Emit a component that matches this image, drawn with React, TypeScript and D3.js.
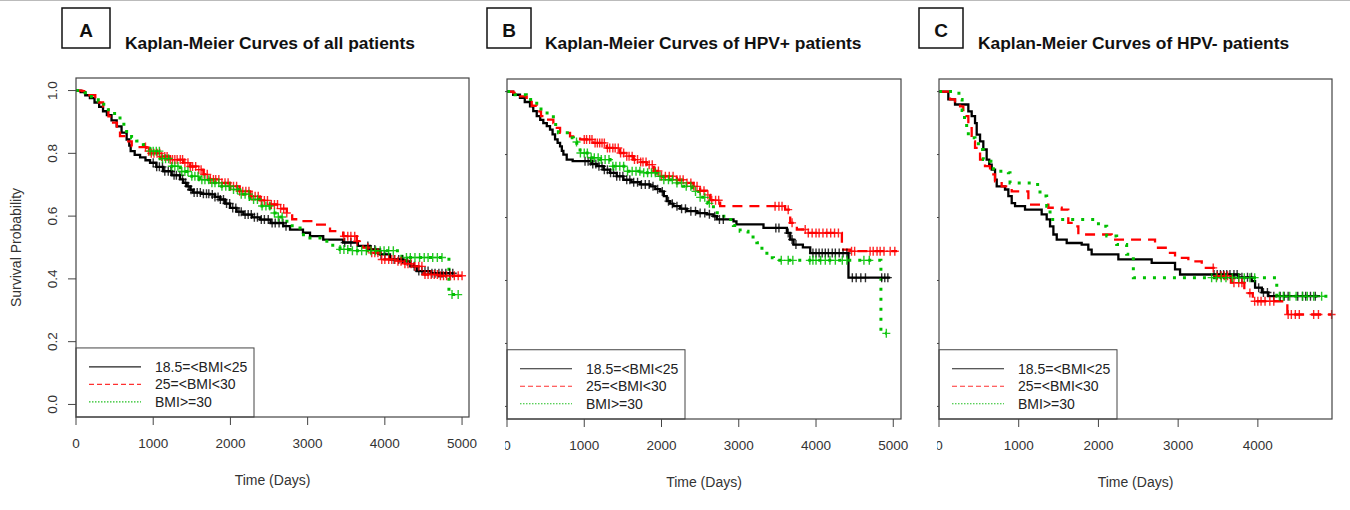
import React from 'react'
import * as d3 from 'd3'

// survival steps: [day, survival after the step]; last pair = end of follow-up
const aBlack = [[0,1],[60,0.995],[120,0.985],[180,0.976],[240,0.962],[300,0.948],[350,0.934],[400,0.922],[460,0.905],[527,0.886],[590,0.866],[656,0.844],[690,0.825],[708,0.807],[760,0.795],[830,0.787],[900,0.778],[959,0.77],[1040,0.757],[1131,0.743],[1240,0.73],[1347,0.717],[1390,0.706],[1434,0.695],[1480,0.684],[1516,0.675],[1620,0.671],[1736,0.669],[1800,0.661],[1865,0.653],[1930,0.64],[1995,0.626],[2080,0.614],[2167,0.605],[2280,0.596],[2383,0.589],[2520,0.578],[2686,0.568],[2772,0.557],[2940,0.547],[3031,0.536],[3202,0.525],[3460,0.516],[3650,0.505],[3808,0.494],[3938,0.478],[4067,0.462],[4240,0.456],[4330,0.44],[4413,0.425],[4600,0.418],[4890,0.418]]
const aRed = [[0,1],[80,0.998],[150,0.985],[250,0.962],[350,0.94],[420,0.918],[480,0.898],[530,0.875],[570,0.855],[650,0.838],[722,0.823],[790,0.82],[915,0.807],[959,0.8],[1090,0.79],[1218,0.78],[1390,0.77],[1480,0.758],[1563,0.748],[1650,0.733],[1736,0.717],[1860,0.706],[1995,0.695],[2120,0.679],[2254,0.663],[2380,0.65],[2513,0.637],[2620,0.624],[2730,0.61],[2800,0.59],[2880,0.584],[3073,0.573],[3290,0.552],[3460,0.536],[3636,0.52],[3720,0.5],[3808,0.483],[3938,0.462],[4153,0.456],[4260,0.448],[4370,0.44],[4500,0.414],[4700,0.41],[5030,0.41]]
const aGreen = [[0,1],[117,0.993],[200,0.98],[289,0.966],[360,0.95],[419,0.934],[500,0.918],[570,0.902],[620,0.883],[656,0.865],[720,0.85],[786,0.839],[872,0.828],[920,0.815],[959,0.807],[1090,0.783],[1218,0.759],[1350,0.742],[1477,0.727],[1600,0.716],[1736,0.706],[1860,0.695],[1995,0.685],[2120,0.67],[2254,0.653],[2380,0.632],[2513,0.61],[2600,0.597],[2686,0.584],[2800,0.562],[2902,0.541],[3030,0.53],[3160,0.52],[3290,0.507],[3420,0.494],[3549,0.49],[4220,0.468],[4830,0.35],[4970,0.35]]

const aBlackCens = [1000,1045,1080,1120,1150,1195,1230,1270,1300,1345,1380,1420,1455,1490,1530,1570,1610,1650,1690,1720,1765,1800,1840,1870,1910,1950,1990,2030,2070,2110,2140,2190,2230,2270,2310,2350,2400,2440,2490,2540,2580,2630,2680,2720,3480,3560,3780,3820,3870,3950,4000,4120,4180,4230,4290,4380,4440,4480,4520,4560,4610,4650,4700,4740,4790,4840,4880]
const aRedCens = [900,940,975,1010,1050,1085,1110,1150,1180,1220,1250,1280,1310,1350,1380,1410,1450,1480,1510,1550,1590,1620,1660,1700,1740,1780,1810,1850,1890,1930,1970,2000,2040,2080,2120,2160,2200,2240,2280,2320,2360,2400,2440,2480,2530,2570,2610,2650,2690,2730,3470,3520,3560,3610,3640,3780,3830,3870,3910,3960,4000,4050,4090,4130,4170,4210,4260,4300,4340,4390,4440,4480,4520,4560,4600,4640,4680,4720,4760,4800,4850,4900,4950,5000]
const aGreenCens = [960,1000,1040,1080,1120,1160,1200,1240,1280,1320,1370,1410,1450,1500,1540,1580,1630,1670,1720,1760,1800,1850,1890,1940,1990,2040,2090,2140,2190,2240,2300,2350,2410,2460,2510,2570,2620,2670,3420,3470,3520,3580,3640,3700,3760,3820,3880,3940,3990,4050,4110,4280,4330,4390,4450,4510,4560,4620,4680,4740,4870,4950]

const bBlack = [[0,1],[80,0.99],[168,0.98],[230,0.967],[298,0.953],[340,0.938],[385,0.922],[430,0.91],[470,0.9],[515,0.89],[557,0.879],[590,0.864],[622,0.848],[655,0.837],[687,0.826],[710,0.812],[730,0.8],[773,0.784],[850,0.779],[1100,0.77],[1162,0.763],[1250,0.752],[1334,0.742],[1420,0.731],[1507,0.72],[1610,0.712],[1723,0.705],[1852,0.699],[1920,0.69],[1982,0.683],[2030,0.668],[2068,0.652],[2110,0.644],[2154,0.636],[2240,0.628],[2327,0.62],[2460,0.614],[2586,0.61],[2672,0.604],[2716,0.594],[2932,0.588],[2970,0.578],[3320,0.567],[3623,0.551],[3666,0.53],[3709,0.514],[3830,0.505],[3925,0.487],[4420,0.409],[4960,0.409]]
const bRed = [[0,1],[82,0.996],[170,0.985],[255,0.975],[320,0.955],[385,0.937],[440,0.922],[492,0.911],[600,0.9],[645,0.885],[687,0.869],[816,0.858],[946,0.848],[1118,0.837],[1291,0.821],[1463,0.805],[1550,0.795],[1636,0.784],[1720,0.776],[1809,0.768],[1900,0.748],[1982,0.731],[2198,0.72],[2300,0.71],[2413,0.699],[2500,0.685],[2586,0.672],[2630,0.655],[2759,0.636],[3600,0.625],[3666,0.583],[3752,0.562],[3882,0.551],[4335,0.498],[4443,0.493],[5048,0.493]]
const bGreen = [[0,1],[104,0.99],[250,0.975],[385,0.953],[440,0.932],[600,0.906],[630,0.888],[665,0.869],[816,0.853],[860,0.84],[903,0.826],[946,0.805],[1075,0.79],[1205,0.784],[1334,0.763],[1550,0.747],[1766,0.742],[1939,0.731],[2025,0.72],[2150,0.71],[2284,0.699],[2400,0.683],[2500,0.664],[2600,0.645],[2672,0.615],[2760,0.604],[2845,0.594],[2930,0.575],[3018,0.556],[3120,0.538],[3234,0.52],[3300,0.495],[3364,0.472],[3450,0.464],[4840,0.232],[4910,0.232]]

const bBlackCens = [1010,1050,1080,1110,1150,1190,1230,1260,1300,1340,1380,1420,1460,1500,1550,1590,1640,1690,1740,1790,1840,1890,1950,2010,2090,2140,2200,2260,2310,2380,2440,2500,2560,2620,2690,2750,2800,3480,3520,3640,3690,3740,3960,4000,4040,4080,4120,4160,4210,4250,4300,4350,4400,4470,4520,4580,4640,4850,4890,4930]
const bRedCens = [1000,1030,1070,1100,1140,1170,1200,1230,1260,1300,1330,1370,1400,1440,1470,1510,1550,1580,1620,1650,1690,1730,1760,1800,1840,1880,1920,1960,2000,2050,2100,2150,2200,2240,2280,2330,2380,2420,2460,2500,2550,2600,2650,2700,2740,3470,3520,3560,3640,3690,3860,3900,3950,4000,4040,4090,4140,4190,4240,4290,4460,4500,4700,4740,4790,4830,4880,4960,5020]
const bGreenCens = [900,950,1000,1040,1090,1130,1180,1220,1270,1320,1370,1410,1460,1510,1560,1620,1670,1720,1770,1820,1870,1920,1980,2030,2090,2140,2200,2260,2320,2380,2440,2500,2560,2620,3550,3640,3700,3920,3960,4000,4060,4120,4180,4250,4340,4400,4620,4690,4910]

const cBlack = [[0,1],[117,0.975],[201,0.959],[368,0.937],[410,0.922],[452,0.9],[473,0.863],[515,0.842],[556,0.816],[598,0.784],[630,0.768],[661,0.752],[703,0.72],[724,0.699],[828,0.689],[870,0.668],[912,0.646],[954,0.636],[1079,0.625],[1288,0.61],[1351,0.594],[1393,0.572],[1435,0.546],[1477,0.53],[1602,0.519],[1790,0.514],[1873,0.498],[1915,0.483],[2250,0.467],[2668,0.456],[2961,0.435],[3024,0.419],[3756,0.41],[3923,0.398],[3965,0.377],[4050,0.362],[4132,0.35],[4780,0.35]]
const cRed = [[0,1],[138,0.975],[201,0.964],[264,0.953],[305,0.922],[368,0.884],[410,0.842],[452,0.821],[515,0.784],[577,0.763],[640,0.737],[703,0.715],[786,0.699],[912,0.683],[1121,0.641],[1372,0.631],[1539,0.625],[1622,0.583],[1706,0.572],[1748,0.546],[2166,0.53],[2710,0.504],[2877,0.488],[2961,0.472],[3128,0.461],[3296,0.44],[3463,0.415],[3662,0.393],[3830,0.36],[3936,0.334],[4370,0.292],[4930,0.292]]
const cGreen = [[0,1],[250,0.975],[290,0.94],[320,0.9],[347,0.879],[368,0.853],[452,0.848],[494,0.816],[556,0.784],[640,0.779],[682,0.747],[870,0.742],[891,0.71],[1180,0.705],[1267,0.668],[1351,0.636],[1393,0.594],[2000,0.572],[2104,0.541],[2229,0.514],[2354,0.483],[2438,0.409],[4237,0.35],[4930,0.35]]

const cBlackCens = [3450,3490,3530,3570,3610,3650,3700,3740,3800,3870,3920,4010,4070,4120,4200,4280,4330,4380,4500,4560,4600,4660,4720]
const cRedCens = [3440,3490,3540,3580,3620,3700,3760,3800,3900,3960,4000,4040,4090,4150,4200,4380,4420,4470,4520,4700,4760,4925]
const cGreenCens = [3420,3480,3540,3600,3680,3760,3830,3900,3960,4270,4320,4400,4480,4560,4620,4700,4800]

const xTicks = [0, 1000, 2000, 3000, 4000, 5000]
const yTicks = [0, 0.2, 0.4, 0.6, 0.8, 1.0]
const legendLabels = ['18.5=<BMI<25', '25=<BMI<30', 'BMI>=30']

const FONT = '"Liberation Sans", Arial, sans-serif'
const styles = [
  { color: '#000', width: 2.3, dash: null },
  { color: '#ff0000', width: 2.3, dash: '10,7' },
  { color: '#00c000', width: 3, dash: '3,7' },
]
const legendStyles = [
  { color: '#222', dash: null },
  { color: '#ff3030', dash: '5,3' },
  { color: '#20c020', dash: '1.5,1.5' },
]

const survAt = (steps, t) => {
  let v = steps[0][1]
  for (const [tt, s] of steps) if (tt <= t) v = s
  return v
}

const panels = [
  { id: 'A', title: 'Kaplan-Meier Curves of all patients', x0: 76, x1: 469, top: 78, bottom: 417, xMax: 5090, clipX: 0, clipW: 490,
    tag: { x: 62, w: 48 }, titleX: 125, curves: [aBlack, aRed, aGreen], cens: [aBlackCens, aRedCens, aGreenCens] },
  { id: 'B', title: 'Kaplan-Meier Curves of HPV+ patients', x0: 507, x1: 901, top: 79, bottom: 419, xMax: 5100, clipX: 505, clipW: 415,
    tag: { x: 487, w: 44 }, titleX: 545, curves: [bBlack, bRed, bGreen], cens: [bBlackCens, bRedCens, bGreenCens] },
  { id: 'C', title: 'Kaplan-Meier Curves of HPV- patients', x0: 939, x1: 1332, top: 79, bottom: 419, xMax: 4930, clipX: 937, clipW: 413,
    tag: { x: 919, w: 44 }, titleX: 978, curves: [cBlack, cRed, cGreen], cens: [cBlackCens, cRedCens, cGreenCens] },
]

function Panel({ p }) {
  const x = d3.scaleLinear().domain([0, p.xMax]).range([p.x0, p.x1])
  const y = d3.scaleLinear().domain([-0.04, 1.04]).range([p.bottom, p.top])
  const line = d3.line().x(d => x(d[0])).y(d => y(d[1])).curve(d3.curveStepAfter)
  const ticksX = xTicks.filter(t => t <= p.xMax)
  const midY = (p.top + p.bottom) / 2
  const lg = { x: p.x0, y: y(0.18), w: 178 }
  return (
    <g>
      <defs>
        <clipPath id={'clip' + p.id}>
          <rect x={p.clipX} y={0} width={p.clipW} height={510} />
        </clipPath>
      </defs>
      {/* panel tag and title */}
      <rect x={p.tag.x} y={8} width={p.tag.w} height={40} fill="none" stroke="#111" strokeWidth={1.5} />
      <text x={p.tag.x + p.tag.w / 2} y={37} textAnchor="middle" fontSize={19} fontWeight="bold" fill="#111">{p.id}</text>
      <text x={p.titleX} y={49} fontSize={17.4} fontWeight="bold" fill="#111">{p.title}</text>

      <g clipPath={`url(#clip${p.id})`}>
        {/* axes */}
        {ticksX.map(t => (
          <g key={'x' + t}>
            <line x1={x(t)} x2={x(t)} y1={p.bottom} y2={p.bottom + 8} stroke="#444" strokeWidth={1} />
            <text x={x(t)} y={p.bottom + 31} textAnchor="middle" fontSize={13.5} fill="#333">{t}</text>
          </g>
        ))}
        {yTicks.map(t => (
          <g key={'y' + t}>
            <line x1={p.x0 - 8} x2={p.x0} y1={y(t)} y2={y(t)} stroke="#444" strokeWidth={1} />
            <text transform={`translate(${p.x0 - 19},${y(t)}) rotate(-90)`} textAnchor="middle" fontSize={13.5} fill="#333">{t.toFixed(1)}</text>
          </g>
        ))}
        <text transform={`translate(${p.x0 - 55},${midY}) rotate(-90)`} textAnchor="middle" fontSize={14} fill="#333">Survival Probability</text>
        <text x={(p.x0 + p.x1) / 2} y={p.bottom + 68} textAnchor="middle" fontSize={14} fill="#333">Time (Days)</text>

        {/* curves */}
        {p.curves.map((c, i) => (
          <path key={'c' + i} d={line(c)} fill="none" stroke={styles[i].color} strokeWidth={styles[i].width}
            strokeDasharray={styles[i].dash || undefined} />
        ))}
        {p.cens.map((cs, i) => cs.map((t, j) => {
          const cx = x(t), cy = y(survAt(p.curves[i], t))
          return (
            <path key={`m${i}-${j}`} d={`M${cx - 4},${cy}H${cx + 4}M${cx},${cy - 4.5}V${cy + 4.5}`}
              stroke={styles[i].color} strokeWidth={1.4} opacity={i === 0 ? 0.8 : 0.85} />
          )
        }))}

        {/* legend */}
        <rect x={lg.x} y={lg.y} width={lg.w} height={p.bottom - lg.y} fill="#fff" stroke="#444" strokeWidth={1} />
        {legendLabels.map((l, i) => {
          const ly = lg.y + 19 + i * 17.5
          return (
            <g key={'l' + i}>
              <line x1={lg.x + 13} x2={lg.x + 65} y1={ly} y2={ly} stroke={legendStyles[i].color} strokeWidth={1.2}
                strokeDasharray={legendStyles[i].dash || undefined} />
              <text x={lg.x + 79} y={ly + 5} fontSize={14} fill="#222">{l}</text>
            </g>
          )
        })}

        {/* plot box */}
        <rect x={p.x0} y={p.top} width={p.x1 - p.x0} height={p.bottom - p.top} fill="none" stroke="#444" strokeWidth={1.2} />
      </g>
    </g>
  )
}

export default function App() {
  return (
    <svg width={1350} height={510} style={{ position: 'absolute', left: 0, top: 0, background: '#fff' }} fontFamily={FONT}>
      <rect width={1350} height={510} fill="#fff" />
      <line x1={0} x2={1350} y1={0.5} y2={0.5} stroke="#bbb" strokeWidth={1} />
      {panels.map(p => <Panel key={p.id} p={p} />)}
    </svg>
  )
}
